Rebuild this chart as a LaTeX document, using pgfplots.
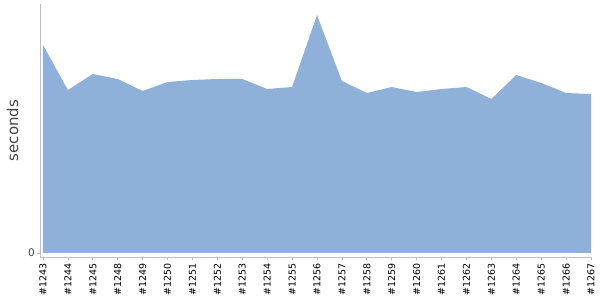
\documentclass[border=0pt]{standalone}
\usepackage{pgfplots}
\pgfplotsset{compat=1.18}
\usepackage{fontspec}
\setmainfont{DejaVu Sans}
\newfontfamily\dejavu{DejaVu Sans}
\definecolor{areablue}{RGB}{143,176,216}
\definecolor{axisgray}{RGB}{190,190,190}
\definecolor{labelgray}{RGB}{68,68,68}
\pgfplotstableread{
x y
0 208
1 163
2 179
3 174
4 162
5 171
6 173
7 174
8 174
9 164
10 166
11 238
12 172
13 160
14 166
15 161
16 164
17 166
18 154
19 178
20 170
21 160
22 159
}\times
\begin{document}
\begin{tikzpicture}
\useasboundingbox (0,0) rectangle (600bp,300bp);
\begin{axis}[
  at={(40bp,43bp)}, anchor=south west,
  scale only axis,
  width=551bp, height=253bp,
  xmin=-0.12, xmax=22,
  ymin=-4, ymax=249,
  axis x line*=bottom, axis y line*=left,
  axis line style={axisgray, line width=0.8pt, -},
  every tick/.style={axisgray, line width=0.8pt},
  tick align=outside,
  major tick length=3bp,
  xtick={0,...,22},
  xticklabels={\#1243,\#1244,\#1245,\#1248,\#1249,\#1250,\#1251,\#1252,\#1253,\#1254,\#1255,\#1256,\#1257,\#1258,\#1259,\#1260,\#1261,\#1262,\#1263,\#1264,\#1265,\#1266,\#1267},
  xticklabel style={rotate=90, anchor=east, font=\dejavu\fontsize{9.5}{9.5}\selectfont, text=black, inner sep=3bp},
  ytick={0},
  yticklabel style={font=\dejavu\fontsize{10.5}{10.5}\selectfont, text=labelgray, inner sep=2bp},
  /pgf/number format/assume math mode=true,
  ylabel={seconds},
  every axis y label/.style={at={(axis description cs:-0.05,0.5)}, anchor=center, rotate=90, font=\dejavu\fontsize{15}{15}\selectfont, text=labelgray},
  clip=false,
]
\addplot[fill=areablue, draw=none] table[x=x,y=y]{\times} \closedcycle;
\end{axis}
\end{tikzpicture}
\end{document}
